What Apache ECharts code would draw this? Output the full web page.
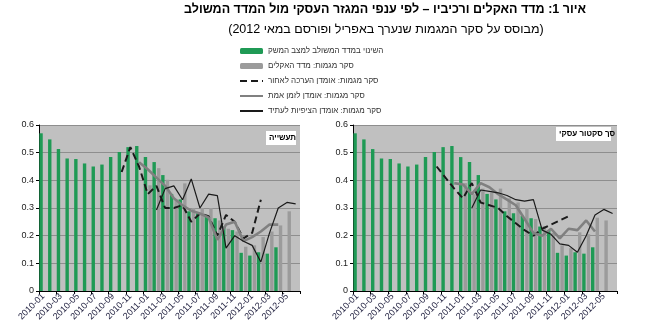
<!DOCTYPE html>
<html><head><meta charset="utf-8">
<script src="https://cdn.jsdelivr.net/npm/echarts@6/dist/echarts.min.js"></script>
<style>html,body{margin:0;padding:0;background:#fff}#c{width:656px;height:329px}</style>
</head><body><div id="c"></div>
<script>
const categories = ['2010-01','2010-02','2010-03','2010-04','2010-05','2010-06','2010-07','2010-08','2010-09','2010-10','2010-11','2010-12',
  '2011-01','2011-02','2011-03','2011-04','2011-05','2011-06','2011-07','2011-08','2011-09','2011-10','2011-11','2011-12',
  '2012-01','2012-02','2012-03','2012-04','2012-05','2012-06'];
const yTicks = [0, 0.1, 0.2, 0.3, 0.4, 0.5, 0.6];

const seriesNames = ['השינוי במדד המשולב למצב המשק','סקר מגמות: מדד האקלים','סקר מגמות: אומדן הערכה לאחור','סקר מגמות: אומדן לזמן אמת','סקר מגמות: אומדן הציפיות לעתיד'];
const panelLabels = ['תעשייה','סך סקטור עסקי'];
const titleText = 'איור 1: מדד האקלים ורכיביו – לפי ענפי המגזר העסקי מול המדד המשולב';
const subtitleText = '(מבוסס על סקר המגמות שנערך באפריל ופורסם במאי 2012)';

// combined index (same in both panels)
const compositeIndex = [0.570,0.548,0.513,0.479,0.477,0.461,0.450,0.457,0.484,0.502,0.520,0.524,
  0.484,0.466,0.419,0.351,0.331,0.288,0.281,0.272,0.263,0.233,0.220,0.138,
  0.128,0.140,0.135,0.158,null,null];

// industry panel
const industryClimate = [null,null,null,null,null,null,null,null,null,null,null,null,
  0.382,0.444,0.402,0.330,0.389,0.300,0.300,0.300,0.255,0.225,0.215,0.160,
  0.165,0.195,0.215,0.237,0.288,null];
const industryRetro = [null,null,null,null,null,null,null,null,null,0.43,0.52,0.45,
  0.35,0.38,0.30,0.30,0.31,0.25,0.28,0.27,0.20,0.275,0.25,0.19,
  0.21,0.33,null,null,null,null];
const industryRealTime = [null,null,null,null,null,null,null,null,null,null,null,0.465,
  0.44,0.41,0.38,0.335,0.31,0.29,0.28,0.265,0.185,0.24,0.25,0.18,
  0.195,0.215,0.24,0.24,null,null];
const industryFuture = [null,null,null,null,null,null,null,null,null,null,null,null,
  null,0.293,0.37,0.38,0.33,0.405,0.30,0.35,0.345,0.155,0.20,0.18,
  0.165,0.105,0.21,0.30,0.32,0.315];

// total business sector panel
const businessClimate = [null,null,null,null,null,null,null,null,null,null,null,null,
  0.39,0.35,0.37,0.355,0.37,0.335,0.32,0.30,0.26,0.235,0.21,0.165,
  0.155,0.212,0.205,0.265,0.255,null];
const businessRetro = [null,null,null,null,null,null,null,null,null,0.45,0.41,0.37,
  0.335,0.39,0.32,0.31,0.30,0.27,0.245,0.22,0.20,0.225,0.24,0.255,
  0.27,null,null,null,null,null];
const businessRealTime = [null,null,null,null,null,null,null,null,null,null,null,0.39,
  0.385,0.35,0.39,0.375,0.35,0.33,0.31,0.26,0.21,0.20,0.225,0.19,
  0.225,0.22,0.255,0.215,null,null];
const businessFuture = [null,null,null,null,null,null,null,null,null,null,null,null,
  null,0.30,0.365,0.36,0.355,0.345,0.33,0.325,0.33,0.22,0.205,0.17,
  0.165,0.14,0.20,0.275,0.295,0.28];

const FONT = 'Liberation Sans';
const GREEN = '#1f9a55', GRAYBAR = '#9b9b9b', GRAYLINE = '#808080', BLACK = '#1a1a1a';

function panelSeries(idx, climate, retro, real, future) {
  return [
    {name: seriesNames[0], type:'bar', xAxisIndex: idx, yAxisIndex: idx, data: compositeIndex,
      barWidth: 3.4, barGap: '35%', itemStyle:{color: GREEN}},
    {name: seriesNames[1], type:'bar', xAxisIndex: idx, yAxisIndex: idx, data: climate,
      barWidth: 3.4, barGap: '35%', itemStyle:{color: GRAYBAR}},
    {name: seriesNames[2], type:'line', xAxisIndex: idx, yAxisIndex: idx, data: retro,
      symbol:'none', lineStyle:{color: BLACK, width: 2, type:[7,4]}, itemStyle:{color: BLACK}},
    {name: seriesNames[3], type:'line', xAxisIndex: idx, yAxisIndex: idx, data: real,
      symbol:'none', lineStyle:{color: GRAYLINE, width: 2.6}, itemStyle:{color: GRAYLINE}},
    {name: seriesNames[4], type:'line', xAxisIndex: idx, yAxisIndex: idx, data: future,
      symbol:'none', lineStyle:{color: BLACK, width: 1.2}, itemStyle:{color: BLACK}}
  ];
}

function xAxis(gi) {
  return {type:'category', gridIndex: gi, data: categories, boundaryGap: true,
    axisLine:{lineStyle:{color:'#000', width:1}},
    axisTick:{show:true, interval:1, length:3, lineStyle:{color:'#000'}},
    axisLabel:{interval:1, rotate:45, fontSize:9, fontFamily: FONT, color:'#1c1c3c', margin:4}};
}
function yAxis(gi) {
  return {type:'value', gridIndex: gi, min: yTicks[0], max: yTicks[yTicks.length-1], interval: 0.1,
    axisLine:{show:true, lineStyle:{color:'#000', width:1}},
    axisTick:{show:true, length:3, lineStyle:{color:'#000'}},
    axisLabel:{fontSize:9, fontFamily: FONT, color:'#222', margin:5,
      formatter: v => String(Math.round(v*10)/10)},
    splitLine:{show:true, lineStyle:{color:'#8e8e8e', width:1}}};
}

const legendData = seriesNames.map((n, i) => i < 2 ? {name: n} : {name: n, itemStyle: {opacity: 0}});

const chart = echarts.init(document.getElementById('c'), null, {renderer:'canvas'});
chart.setOption({
  animation: false,
  backgroundColor: '#fff',
  textStyle: {fontFamily: FONT},
  grid: [
    {left: 39, top: 125, width: 261, height: 166, show: true, backgroundColor:'#c0c0c0', borderWidth: 0},
    {left: 353, top: 125, width: 264, height: 166, show: true, backgroundColor:'#c0c0c0', borderWidth: 0}
  ],
  legend: {
    orient:'vertical', left: 239, top: 46, padding: 0, itemGap: 5, itemWidth: 23, itemHeight: 6,
    textStyle:{fontSize: 8, color:'#333', fontFamily: FONT, lineHeight: 10},
    data: legendData
  },
  xAxis: [xAxis(0), xAxis(1)],
  yAxis: [yAxis(0), yAxis(1)],
  series: [
    ...panelSeries(0, industryClimate, industryRetro, industryRealTime, industryFuture),
    ...panelSeries(1, businessClimate, businessRetro, businessRealTime, businessFuture)
  ],
  graphic: [
    {type:'text', x: 385, y: 10, style:{text: titleText, font: 'bold 12.5px "Liberation Sans"', fill:'#000', align:'center', verticalAlign:'middle'}},
    {type:'text', x: 386, y: 30, style:{text: subtitleText, font: '12.5px "Liberation Sans"', fill:'#000', align:'center', verticalAlign:'middle'}},
    {type:'rect', left: 266, top: 131, shape:{width: 30, height: 14}, style:{fill:'#fff'}},
    {type:'text', left: 269, top: 134, style:{text: panelLabels[0], font:'bold 8px "Liberation Sans"', fill:'#000'}},
    {type:'rect', left: 556, top: 127, shape:{width: 55, height: 14}, style:{fill:'#fff'}},
    {type:'text', left: 559, top: 130, style:{text: panelLabels[1], font:'bold 8px "Liberation Sans"', fill:'#000'}}
  ]
});
</script></body></html>
